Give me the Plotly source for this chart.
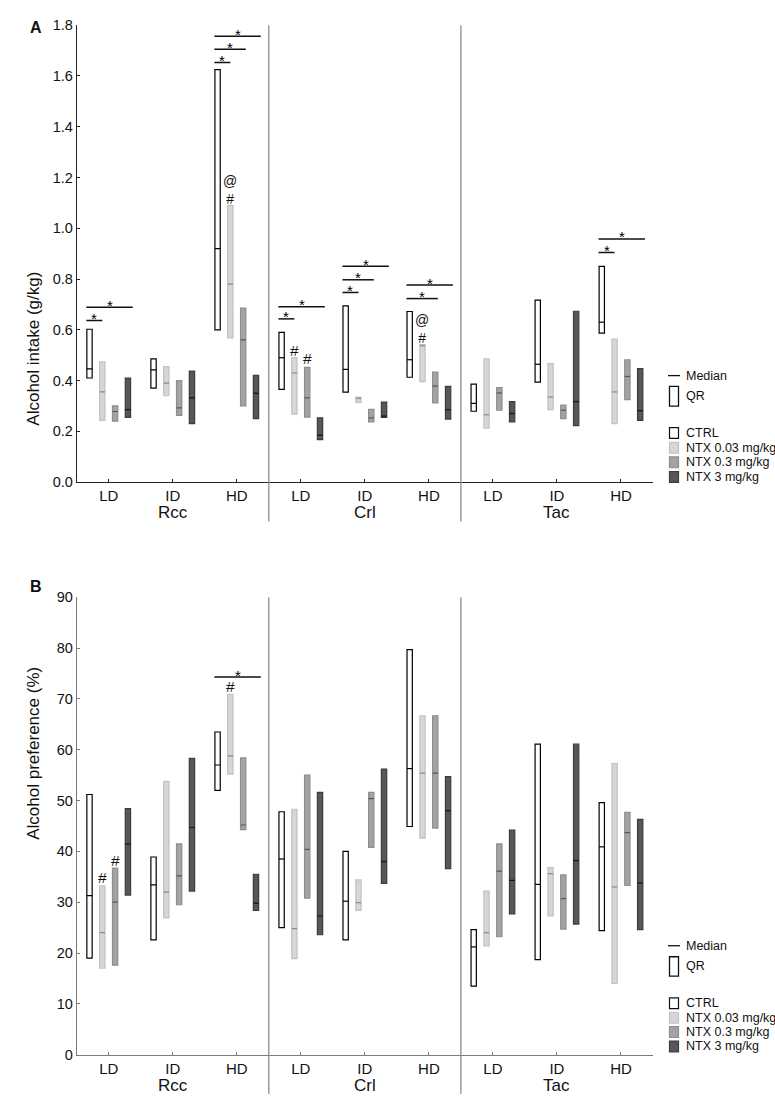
import plotly.graph_objects as go

W, H = 775, 1106
FONT = "Liberation Sans, Arial, sans-serif"

# ---------------- data ----------------
regions = ["Rcc", "Crl", "Tac"]
doses = ["LD", "ID", "HD"]
series = ["CTRL", "NTX 0.03 mg/kg", "NTX 0.3 mg/kg", "NTX 3 mg/kg"]

# Panel A: alcohol intake (g/kg); 9 groups = Rcc LD/ID/HD, Crl LD/ID/HD, Tac LD/ID/HD
intake_ctrl_q1 = [0.41, 0.37, 0.60, 0.365, 0.354, 0.413, 0.279, 0.394, 0.587]
intake_ctrl_med = [0.446, 0.442, 0.92, 0.49, 0.444, 0.482, 0.31, 0.464, 0.63]
intake_ctrl_q3 = [0.602, 0.485, 1.625, 0.59, 0.694, 0.672, 0.386, 0.717, 0.85]

intake_n003_q1 = [0.243, 0.34, 0.568, 0.268, 0.314, 0.396, 0.212, 0.285, 0.23]
intake_n003_med = [0.355, 0.39, 0.78, 0.43, 0.33, 0.537, 0.265, 0.335, 0.355]
intake_n003_q3 = [0.474, 0.455, 1.09, 0.49, 0.335, 0.542, 0.485, 0.467, 0.563]

intake_n03_q1 = [0.24, 0.263, 0.30, 0.256, 0.237, 0.312, 0.283, 0.25, 0.325]
intake_n03_med = [0.278, 0.292, 0.56, 0.332, 0.253, 0.378, 0.351, 0.283, 0.416]
intake_n03_q3 = [0.30, 0.40, 0.685, 0.452, 0.286, 0.433, 0.372, 0.303, 0.482]

intake_n3_q1 = [0.255, 0.23, 0.25, 0.167, 0.255, 0.248, 0.237, 0.222, 0.243]
intake_n3_med = [0.285, 0.332, 0.35, 0.185, 0.26, 0.285, 0.27, 0.317, 0.281]
intake_n3_q3 = [0.41, 0.437, 0.42, 0.253, 0.315, 0.377, 0.317, 0.673, 0.447]

# Panel B: alcohol preference (%)
pref_ctrl_q1 = [19.0, 22.6, 52.0, 25.0, 22.6, 44.9, 13.5, 18.7, 24.4]
pref_ctrl_med = [31.3, 33.4, 57.0, 38.5, 30.2, 56.3, 21.2, 33.5, 40.9]
pref_ctrl_q3 = [51.2, 38.9, 63.5, 47.8, 40.0, 79.7, 24.6, 61.1, 49.6]

pref_n003_q1 = [17.0, 26.9, 55.2, 18.9, 28.4, 42.6, 21.4, 27.3, 14.0]
pref_n003_med = [24.0, 32.0, 58.8, 24.8, 29.9, 55.4, 24.0, 35.6, 33.0]
pref_n003_q3 = [33.2, 53.8, 70.9, 48.3, 34.4, 66.7, 32.2, 36.8, 57.3]

pref_n03_q1 = [17.6, 29.5, 44.3, 30.8, 40.8, 44.6, 23.2, 24.7, 33.3]
pref_n03_med = [30.0, 35.2, 45.2, 40.4, 50.4, 55.4, 36.1, 30.7, 43.7]
pref_n03_q3 = [36.7, 41.5, 58.4, 55.0, 51.6, 66.7, 41.5, 35.4, 47.7]

pref_n3_q1 = [31.4, 32.2, 28.4, 23.6, 33.7, 36.6, 27.7, 25.7, 24.6]
pref_n3_med = [41.5, 44.7, 29.8, 27.3, 38.0, 48.0, 34.3, 38.2, 33.8]
pref_n3_q3 = [48.4, 58.3, 35.5, 51.6, 56.2, 54.7, 44.2, 61.1, 46.3]

# significance brackets: (group index, target series index, y level)
sig_intake = [(0, 1, 0.637), (0, 3, 0.689), (2, 1, 1.653), (2, 2, 1.705), (2, 3, 1.757),
              (3, 1, 0.643), (3, 3, 0.691), (4, 1, 0.747), (4, 2, 0.797), (4, 3, 0.85),
              (5, 2, 0.723), (5, 3, 0.776), (8, 1, 0.905), (8, 3, 0.958)]
sig_pref = [(2, 3, 74.3)]

# other marks: (group, series, y, symbol)
marks_intake = [(2, 1, 1.129, "#"), (2, 1, 1.181, "@"), (3, 1, 0.52, "#"),
                (3, 2, 0.487, "#"), (5, 1, 0.585, "#"), (5, 1, 0.629, "@")]
marks_pref = [(0, 1, 34.8, "#"), (0, 2, 38.3, "#"), (2, 1, 72.4, "#")]

# ---------------- styling ----------------
fills = ["#ffffff", "#d6d6d6", "#a3a3a3", "#575757"]
edges = ["#000000", "#c2c2c2", "#8e8e8e", "#3c3c3c"]
med_cols = ["#000000", "#8a8a8a", "#555555", "#111111"]
offs = [-0.3, -0.1, 0.1, 0.3]
end_extra = [0.0, 0.0, 0.04, 0.075]
BW = 0.083


def px(x):
    return x / W


def py(y):
    return 1 - y / H


XDOM = [px(76.7), px(653)]
PANELS = {
    "A": dict(xa="x", ya="y", zero=481.0, top=17.5,
              q1=[intake_ctrl_q1, intake_n003_q1, intake_n03_q1, intake_n3_q1],
              med=[intake_ctrl_med, intake_n003_med, intake_n03_med, intake_n3_med],
              q3=[intake_ctrl_q3, intake_n003_q3, intake_n03_q3, intake_n3_q3],
              sig=sig_intake, marks=marks_intake),
    "B": dict(xa="x2", ya="y2", zero=1062.0, top=598.0,
              q1=[pref_ctrl_q1, pref_n003_q1, pref_n03_q1, pref_n3_q1],
              med=[pref_ctrl_med, pref_n003_med, pref_n03_med, pref_n3_med],
              q3=[pref_ctrl_q3, pref_n003_q3, pref_n03_q3, pref_n3_q3],
              sig=sig_pref, marks=marks_pref),
}

fig = go.Figure()
annotations = []
shapes = []

for name, P in PANELS.items():
    groups = list(range(9))
    for s in range(4):
        xs = [g + offs[s] for g in groups]
        q1 = P["q1"][s]
        q3 = P["q3"][s]
        fig.add_trace(go.Bar(
            x=xs, y=[b - a for a, b in zip(q1, q3)], base=q1, width=BW,
            marker=dict(color=fills[s], line=dict(color=edges[s], width=1.2)),
            xaxis=P["xa"], yaxis=P["ya"], showlegend=False, hoverinfo="skip"))
        mx, my = [], []
        for x, m in zip(xs, P["med"][s]):
            mx += [x - BW / 2, x + BW / 2, None]
            my += [m, m, None]
        fig.add_trace(go.Scatter(
            x=mx, y=my, mode="lines", line=dict(color=med_cols[s], width=1.2),
            xaxis=P["xa"], yaxis=P["ya"], showlegend=False, hoverinfo="skip"))
    # significance brackets
    bx, by = [], []
    for g, t, yv in P["sig"]:
        x0 = g - 0.35
        x1 = g + offs[t] + end_extra[t]
        bx += [x0, x1, None]
        by += [yv, yv, None]
        annotations.append(dict(x=(x0 + x1) / 2, y=yv, xref=P["xa"], yref=P["ya"],
                                text="*", showarrow=False, yanchor="middle", yshift=2,
                                font=dict(family=FONT, size=15, color="#000000")))
    fig.add_trace(go.Scatter(x=bx, y=by, mode="lines", line=dict(color="#111", width=1.5),
                             xaxis=P["xa"], yaxis=P["ya"], showlegend=False, hoverinfo="skip"))
    # '#' / '@' marks: stacked marks over the same box are set as one text block
    stacks = {}
    for g, s, yv, sym in P["marks"]:
        stacks.setdefault((g, s), []).append((yv, sym))
    for (g, s), items in stacks.items():
        items.sort(key=lambda t: -t[0])
        if len(items) == 1:
            yv, sym = items[0]
            annotations.append(dict(x=g + offs[s], y=yv, xref=P["xa"], yref=P["ya"],
                                    text=sym, showarrow=False, yanchor="middle",
                                    font=dict(family=FONT, size=15.5, color="#111")))
        else:
            yv = sum(t[0] for t in items) / len(items)
            annotations.append(dict(x=g + offs[s], y=yv, xref=P["xa"], yref=P["ya"],
                                    text="<br>".join(t[1] for t in items), showarrow=False,
                                    yanchor="middle", yshift=-1,
                                    font=dict(family=FONT, size=14, color="#111")))
    # separators
    sep_bottom = P["zero"] + 40
    for xv in (2.5, 5.5):
        shapes.append(dict(type="line", xref=P["xa"], yref="paper", x0=xv, x1=xv,
                           y0=py(P["top"]), y1=py(sep_bottom),
                           line=dict(color="#8c8c8c", width=1.3)))
    # region labels
    for i, r in enumerate(regions):
        annotations.append(dict(x=3 * i + 1, y=py(P["zero"] + 31), xref=P["xa"], yref="paper",
                                text=r, showarrow=False, yanchor="middle",
                                font=dict(family=FONT, size=17, color="#111")))


# legends
def add_legend(z, med_dy, qr_top, qr_bot, sq_top0, sq_step):
    shapes.append(dict(type="line", xref="paper", yref="paper", x0=px(668), x1=px(680),
                       y0=py(z - med_dy), y1=py(z - med_dy), line=dict(color="#111", width=1.3)))
    annotations.append(dict(x=px(683.5), y=py(z - med_dy), xref="paper", yref="paper",
                            text="Median", showarrow=False, xanchor="left", yanchor="middle",
                            font=dict(family=FONT, size=12.5, color="#111")))
    shapes.append(dict(type="rect", xref="paper", yref="paper", x0=px(669.5), x1=px(678.5),
                       y0=py(z - qr_top), y1=py(z - qr_bot), fillcolor="#ffffff",
                       line=dict(color="#111", width=1.3)))
    annotations.append(dict(x=px(683.5), y=py(z - (qr_top + qr_bot) / 2), xref="paper", yref="paper",
                            text="QR", showarrow=False, xanchor="left", yanchor="middle",
                            font=dict(family=FONT, size=12.5, color="#111")))
    for k in range(4):
        t = z - sq_top0 + sq_step * k
        shapes.append(dict(type="rect", xref="paper", yref="paper", x0=px(669.5), x1=px(678.5),
                           y0=py(t), y1=py(t + 11), fillcolor=fills[k],
                           line=dict(color=edges[k] if k else "#111", width=1.2)))
        annotations.append(dict(x=px(683.5), y=py(t + 5.5), xref="paper", yref="paper",
                                text=series[k], showarrow=False, xanchor="left", yanchor="middle",
                                font=dict(family=FONT, size=12.5, color="#111")))


add_legend(481.0, 108, 97, 77, 55.3, 14.9)
add_legend(1062.0, 110.5, 99.3, 79.6, 57.6, 14.6)

# panel letters and y titles
annotations.append(dict(x=px(28), y=py(9.5), xref="paper", yref="paper", text="<b>A</b>",
                        showarrow=False, font=dict(family=FONT, size=16, color="#111")))
annotations.append(dict(x=px(28), y=py(587), xref="paper", yref="paper", text="<b>B</b>",
                        showarrow=False, font=dict(family=FONT, size=16, color="#111")))
annotations.append(dict(x=px(22), y=py(266), xref="paper", yref="paper", text="Alcohol intake (g/kg)",
                        textangle=-90, showarrow=False, font=dict(family=FONT, size=17, color="#111")))
annotations.append(dict(x=px(22), y=py(846), xref="paper", yref="paper", text="Alcohol preference (%)",
                        textangle=-90, showarrow=False, font=dict(family=FONT, size=17, color="#111")))

tickvals = list(range(9))
ticktext = doses * 3
xcommon = dict(range=[-0.5, 8.5], domain=XDOM, tickvals=tickvals, ticktext=ticktext,
               ticks="inside", ticklen=3, showgrid=False, zeroline=False, showline=True,
               tickfont=dict(family=FONT, size=15, color="#111"), fixedrange=True)
ycommon = dict(ticks="inside", ticklen=3, showgrid=False, zeroline=False, showline=True,
               tickfont=dict(family=FONT, size=14.5, color="#111"), fixedrange=True)

fig.update_layout(
    width=W, height=H, autosize=False,
    margin=dict(l=0, r=0, t=0, b=0),
    paper_bgcolor="white", plot_bgcolor="white",
    barmode="overlay", showlegend=False,
    font=dict(family=FONT),
    xaxis=dict(**xcommon, anchor="y", linecolor="#222", tickcolor="#222"),
    yaxis=dict(**ycommon, range=[0, 1.8], dtick=0.2, tickformat=".1f",
               domain=[py(481), py(17.5)], anchor="x", linecolor="#222", tickcolor="#222"),
    xaxis2=dict(**xcommon, anchor="y2", linecolor="#7a7a7a", tickcolor="#7a7a7a"),
    yaxis2=dict(**ycommon, range=[0, 90], dtick=10,
                domain=[py(1062), py(598)], anchor="x2", linecolor="#7a7a7a", tickcolor="#7a7a7a"),
    annotations=annotations, shapes=shapes,
)

fig.write_html("out.html", config={"displayModeBar": False},
               post_script="document.body.style.margin='0px';")
